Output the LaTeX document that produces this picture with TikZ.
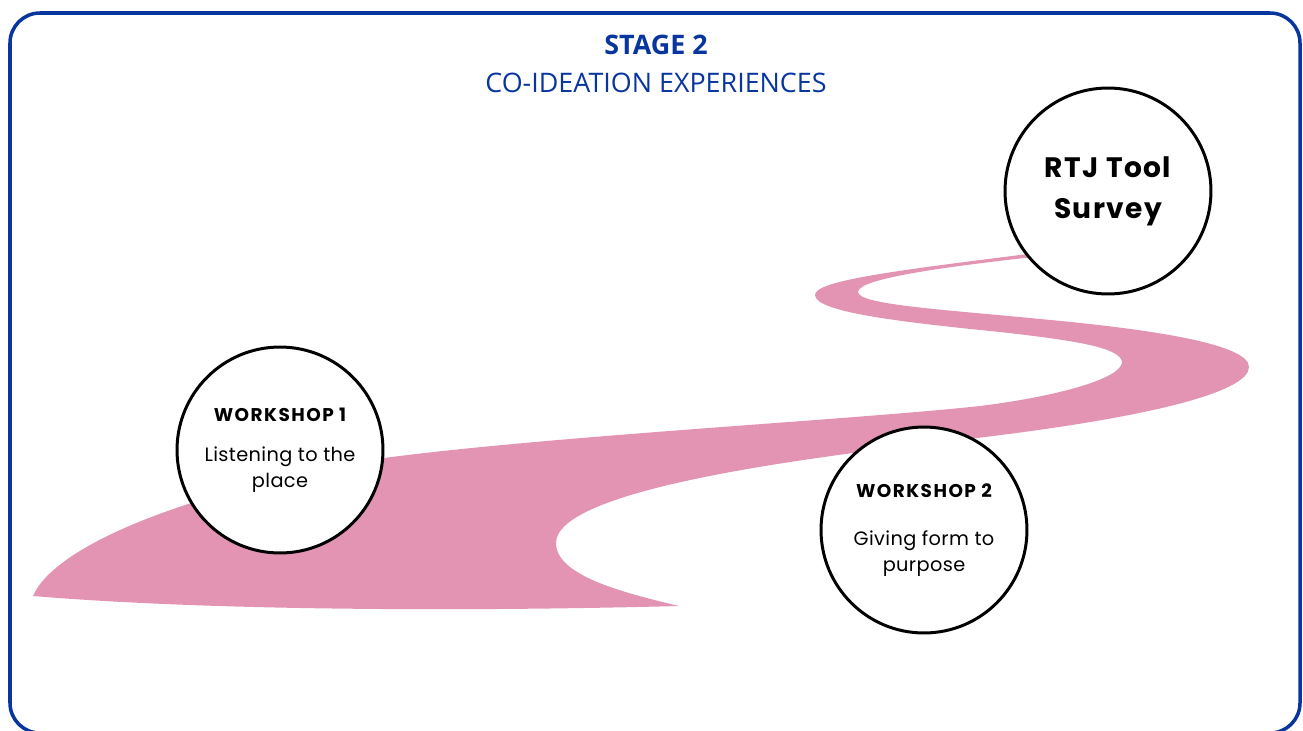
\documentclass[tikz,border=0pt]{standalone}
\usepackage{fontspec}
\setmainfont{Poppins}
\newfontfamily\titlefont{Open Sans}
\usepackage{tikz}
\usetikzlibrary{positioning}
\definecolor{stageblue}{RGB}{8,54,158}
\definecolor{roadpink}{RGB}{226,148,178}

\begin{document}
\begin{tikzpicture}[x=0.02cm, y=-0.02cm,
roundnode/.style={circle, draw=black, line width=1.7pt, fill=white, minimum size=4.12cm, inner sep=0pt, align=center, font=\fontsize{11}{14.8}\selectfont\addfontfeature{LetterSpace=2}},
framenode/.style={draw=stageblue, line width=2pt, rounded corners=0.6cm},
titlenode/.style={anchor=base, text=stageblue, font=\titlefont\fontsize{15.3}{18}\selectfont},
]
\newcommand{\headline}[1]{{\bfseries\fontsize{10.5}{14.8}\selectfont\addfontfeature{LetterSpace=8}#1}}
\useasboundingbox (0,0) rectangle (1303,731);
%Frame
\draw[framenode] (10,13) rectangle (1300,733);
%Road
\fill[roadpink] (679,606) .. controls (450,612) and (200,610) .. (33,596)
  .. controls (55,545) and (190,490) .. (384,458)
  .. controls (550,436) and (850,420) .. (980,406)
  .. controls (1060,396) and (1122,378) .. (1122,362)
  .. controls (1120,348) and (1080,341) .. (1000,332)
  .. controls (900,322) and (815,312) .. (815,295)
  .. controls (815,280) and (900,270) .. (1060,250)
  -- (1060,254)
  .. controls (950,266) and (858,278) .. (858,292)
  .. controls (858,305) and (950,310) .. (1040,319)
  .. controls (1160,330) and (1249,345) .. (1249,367)
  .. controls (1249,392) and (1150,418) .. (960,440)
  .. controls (800,458) and (556,490) .. (556,543)
  .. controls (556,575) and (620,592) .. (679,606) -- cycle;
%Nodes
\node[titlenode] (stage) at (656,54) {\bfseries STAGE 2};
\node[titlenode] (ideation) at (656,92) {CO-IDEATION EXPERIENCES};
\node[roundnode] (ws1) at (280,450) {\headline{WORKSHOP 1}\\[8pt] Listening to the\\ place};
\node[roundnode] (ws2) at (924,530) {\headline{WORKSHOP 2}\\[12.5pt] Giving form to\\ purpose};
\node[roundnode, font=\bfseries\fontsize{16}{23.3}\selectfont\addfontfeature{LetterSpace=5}] (rtj) at (1108,191) {RTJ Tool\\ Survey};

\end{tikzpicture}
\end{document}
